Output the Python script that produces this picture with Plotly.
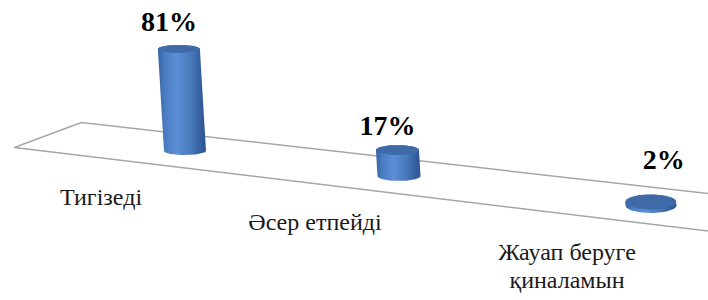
import numpy as np
import plotly.graph_objects as go

# ---- data ----
categories = ["Тигізеді", "Әсер етпейді", "Жауап беруге\nқиналамын"]
values = [81, 17, 2]
value_labels = [f"{v}%" for v in values]

# ---- pseudo-3D projection (pixel space) ----
def cx(u):
    return 185 + 195 * u + 19 * u * u

def cy(u):
    return 151 + 0.117 * (cx(u) - 185)

def depth(u, uL=-0.76):
    s = 1 + 0.05 * (u - uL)
    return 33.5 * s, -12.5 * s

def semi_major(u):
    return 21 - 1.25 * u + 1.75 * u * u

def semi_minor(u):
    return 4 + 0.25 * u + 0.75 * u * u

def hscale(u):
    return 1.26 + 0.27 * u

SERIF = "Liberation Serif, Tinos, Times New Roman, serif"

fig = go.Figure()

# floor
uL, uR = -0.76, 2.8
dLx, dLy = depth(uL)
dRx, dRy = depth(uR)
fx = [cx(uR) + dRx, cx(uL) + dLx, cx(uL) - dLx, cx(uR) - dRx]
fy = [cy(uR) + dRy, cy(uL) + dLy, cy(uL) - dLy, cy(uR) - dRy]
fig.add_trace(go.Scatter(x=fx, y=fy, mode="lines",
                         line=dict(color="#a6a6a6", width=1.5),
                         hoverinfo="skip", showlegend=False))

body_scale = [[0, "#3764a6"], [0.15, "#4a7cc2"], [0.4, "#5b8fd6"],
              [0.7, "#4777b8"], [1, "#2b5190"]]

pct_dx = [-10, -10, 13]
pct_dy = [-25, -22, -40]

cat_x, cat_y, cat_t = [], [], []
pct_x, pct_y, pct_t = [], [], []

for i, (cat, v, lab) in enumerate(zip(categories, values, value_labels)):
    u = i
    bx, by = cx(u), cy(u)
    a, b = semi_major(u), semi_minor(u)
    h = v * hscale(u)
    lean = -0.06 * h
    tx, ty = bx + lean, by - h
    t_front = np.linspace(np.pi, 0, 40)
    t_back = np.linspace(0, -np.pi, 40)
    xs = list(bx + a * np.cos(t_front)) + list(tx + a * np.cos(t_back))
    ys = list(by + b * np.sin(t_front)) + list(ty + b * np.sin(t_back))
    xs.append(xs[0]); ys.append(ys[0])
    fig.add_trace(go.Scatter(x=xs, y=ys, mode="lines", fill="toself",
                             line=dict(width=0, color="rgba(0,0,0,0)"),
                             fillgradient=dict(type="horizontal", colorscale=body_scale),
                             hoverinfo="skip", showlegend=False))
    tt = np.linspace(0, 2 * np.pi, 80)
    fig.add_trace(go.Scatter(x=tx + a * np.cos(tt), y=ty + b * np.sin(tt),
                             mode="lines", fill="toself",
                             line=dict(width=0, color="rgba(0,0,0,0)"),
                             fillcolor="#3e6aa8",
                             hoverinfo="skip", showlegend=False))
    pct_x.append(float(tx + pct_dx[i])); pct_y.append(float(ty + pct_dy[i]))
    pct_t.append(f"<b>{lab}</b>")
    for k, line in enumerate(cat.split("\n")):
        cat_x.append(float(bx - 84)); cat_y.append(float(by + 48 + 28 * k))
        cat_t.append(line)

fig.add_trace(go.Scatter(x=pct_x, y=pct_y, text=pct_t, mode="text",
                         textposition="middle center",
                         textfont=dict(family=SERIF, size=28, color="#000000"),
                         hoverinfo="skip", showlegend=False))
fig.add_trace(go.Scatter(x=cat_x, y=cat_y, text=cat_t, mode="text",
                         textposition="middle center",
                         textfont=dict(family=SERIF, size=24, color="#1a1a1a"),
                         hoverinfo="skip", showlegend=False))

fig.update_layout(
    width=708, height=300,
    margin=dict(l=0, r=0, t=0, b=0),
    paper_bgcolor="white", plot_bgcolor="white",
    font=dict(family=SERIF),
    xaxis=dict(range=[0, 708], visible=False, fixedrange=True),
    yaxis=dict(range=[300, 0], visible=False, fixedrange=True),
)
fig.write_html("out.html", config={"displayModeBar": False},
               post_script="document.body.style.margin='0';")
